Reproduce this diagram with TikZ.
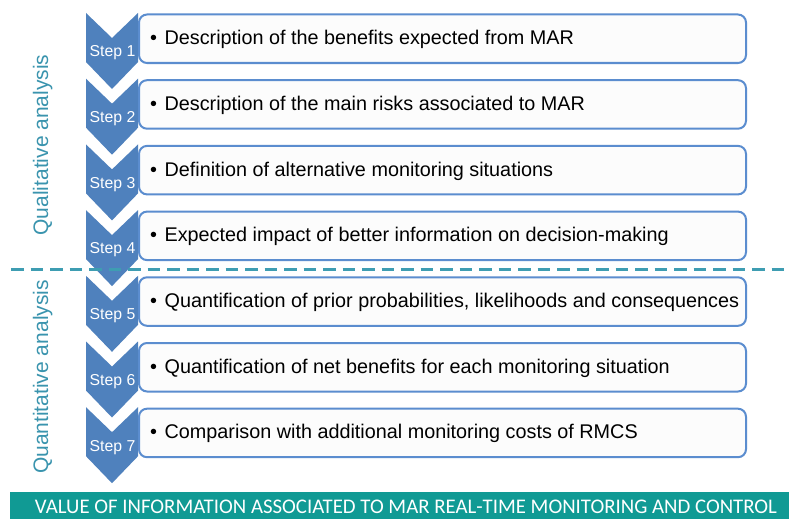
\documentclass[tikz,border=0pt]{standalone}
\usepackage{fontspec}
\setmainfont{Liberation Sans}
\newfontfamily\barfont{Carlito}
\definecolor{chevblue}{HTML}{4F81BD}
\definecolor{boxline}{HTML}{5B8DCF}
\definecolor{boxfill}{HTML}{FCFCFC}
\definecolor{tealtxt}{HTML}{3A94AE}
\definecolor{dashteal}{HTML}{3E9DB2}
\definecolor{barteal}{HTML}{109A94}
\begin{document}
\begin{tikzpicture}[x=1pt,y=-1pt,
  chevron/.style={fill=chevblue,draw=none},
  stepbox/.style={draw=boxline,line width=2pt,fill=boxfill,rounded corners=8pt},
  steplabel/.style={text=white,font=\fontsize{15.8}{17}\selectfont,inner sep=0pt},
  boxtext/.style={font=\fontsize{19.8}{22}\selectfont,anchor=west,inner sep=0pt},
  sidelabel/.style={text=tealtxt,font=\fontsize{21}{24}\selectfont,rotate=90,anchor=base,inner sep=0pt}]
\useasboundingbox (0,0) rectangle (789,519);
\fill[white] (0,0) rectangle (789,519);
\foreach \i/\txt in {1/Description of the benefits expected from MAR,
  2/Description of the main risks associated to MAR,
  3/Definition of alternative monitoring situations,
  4/Expected impact of better information on decision-making,
  5/Quantification of prior probabilities{,} likelihoods and consequences,
  6/Quantification of net benefits for each monitoring situation,
  7/Comparison with additional monitoring costs of RMCS}{
  \pgfmathsetmacro{\T}{13+65.7*(\i-1)}
  \fill[chevron] (86,\T) -- (112,\T+25) -- (138,\T) -- (138,\T+49) -- (112,\T+76) -- (86,\T+49) -- cycle;
  \node[steplabel] (s\i) at (112.5,\T+40) {Step \i};
  \draw[stepbox] (139,\T+1.5) rectangle (746,\T+50);
  \node[boxtext] (b\i) at (150,\T+26.5) {\textbullet\hspace{7.5pt}\txt};
}
\draw[dashteal,line width=3pt,dash pattern=on 12.5pt off 7pt] (11,269) -- (789,269);
\node[sidelabel] (ql) at (48,145) {Qualitative analysis};
\node[sidelabel] (qn) at (48,377) {Quantitative analysis};
\fill[barteal] (10,492) rectangle (789,519);
\node[text=white,inner sep=0pt] (bar) at (406,506.5) {\resizebox{742pt}{!}{\barfont VALUE OF INFORMATION ASSOCIATED TO MAR REAL-TIME MONITORING AND CONTROL}};
\end{tikzpicture}
\end{document}
